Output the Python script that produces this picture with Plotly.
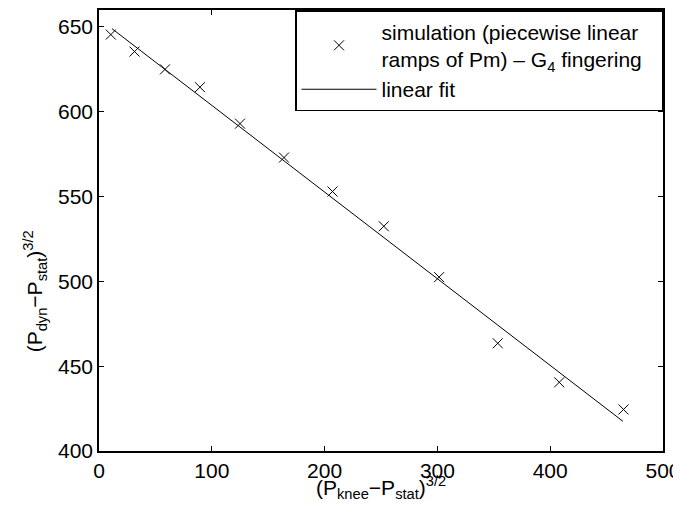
import plotly.graph_objects as go

# simulation points
x_sim = [10.5, 31.5, 58.5, 89.5, 125, 164, 207, 252.5, 301.5, 353.5, 408, 465]
y_sim = [645.5, 635.5, 625, 614.5, 593, 573, 553, 532.5, 502.5, 463.5, 440.5, 424.5]

# linear fit end points
x_fit = [11.5, 464.5]
y_fit = [649, 417.5]

x_ticks = [0, 100, 200, 300, 400, 500]
y_ticks = [400, 450, 500, 550, 600, 650]

font = "Liberation Sans, Arial, sans-serif"
nb = "\u00a0" * 3  # a bit of room after the legend text

fig = go.Figure()
fig.add_trace(go.Scatter(
  x=x_sim, y=y_sim, mode="markers",
  name="simulation (piecewise linear" + nb + "<br>ramps of Pm) – G<sub>4</sub> fingering",
  marker=dict(symbol="x-thin", size=10, line=dict(color="black", width=1), color="black")))
fig.add_trace(go.Scatter(
  x=x_fit, y=y_fit, mode="lines", name="linear fit",
  line=dict(color="black", width=1)))

axis = dict(showgrid=False, zeroline=False, showline=True, linecolor="black", linewidth=1.5,
            mirror="ticks", ticks="inside", ticklen=5, tickcolor="black",
            tickfont=dict(family=font, size=21, color="black"))

fig.update_xaxes(range=[0, 500], tickvals=x_ticks, **axis)
fig.update_yaxes(range=[400, 660], tickvals=y_ticks, **axis)

# the page body adds 8px around the figure, so the figure is 8px smaller
fig.update_layout(
  width=673, height=506,
  margin=dict(l=91, r=18, t=0, b=63),
  plot_bgcolor="white", paper_bgcolor="white",
  font=dict(family=font, size=21, color="black"),
  legend=dict(x=1, y=1, xanchor="right", yanchor="top", bgcolor="white",
              bordercolor="black", borderwidth=1.5, itemwidth=75,
              font=dict(family=font, size=21, color="black")),
  annotations=[
    dict(text="(P<sub>knee</sub>−P<sub>stat</sub>)<sup>3/2</sup>", xref="paper", yref="paper",
         x=0.5, y=-0.12, showarrow=False, font=dict(family=font, size=21)),
    dict(text="(P<sub>dyn</sub>−P<sub>stat</sub>)<sup>3/2</sup>", xref="paper", yref="paper",
         x=-0.142, y=0.363, textangle=-90, showarrow=False, font=dict(family=font, size=21)),
  ])

fig.write_html("out.html")
